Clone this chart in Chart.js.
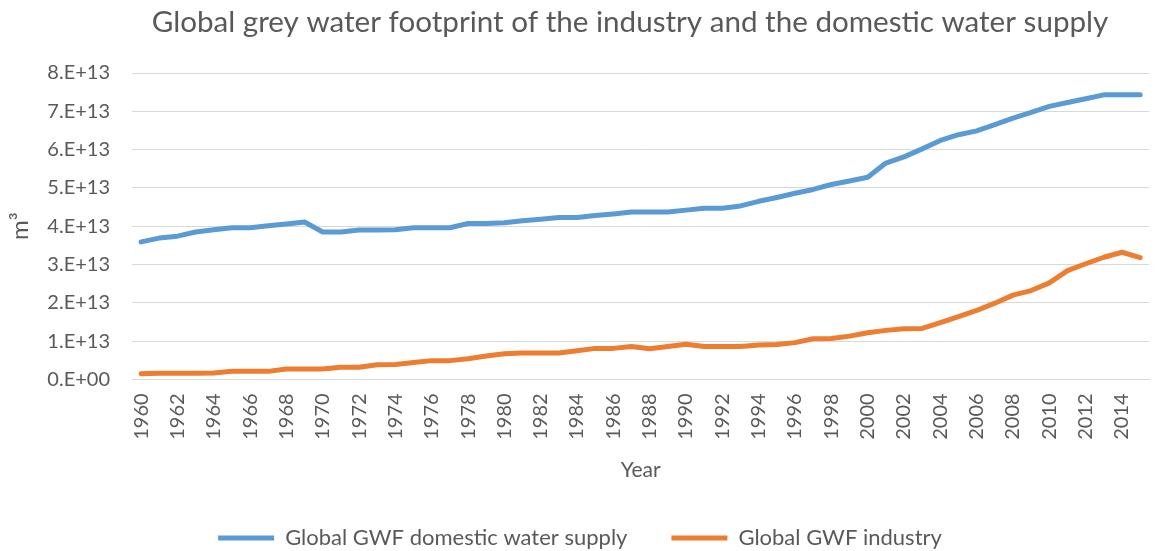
<!DOCTYPE html>
<html>
<head>
<meta charset="utf-8">
<script src="https://cdn.jsdelivr.net/npm/chart.js@4"></script>
<style>
  html, body { margin: 0; padding: 0; background: #fff; }
  #wrap { width: 1160px; height: 551px; }
</style>
</head>
<body>
<div id="wrap"><canvas id="gwfChart"></canvas></div>
<script>
(() => {
  'use strict'

  // Data, in 1E+13 m3
  const years = [];
  for (let y = 1960; y <= 2015; y++) years.push(String(y));

  const domestic = [
    3.59, 3.69, 3.74, 3.85, 3.91, 3.96, 3.96, 4.01, 4.06, 4.11,
    3.85, 3.85, 3.90, 3.90, 3.91, 3.96, 3.96, 3.96, 4.07, 4.07,
    4.09, 4.14, 4.18, 4.23, 4.23, 4.28, 4.32, 4.37, 4.37, 4.37,
    4.42, 4.47, 4.47, 4.53, 4.65, 4.75, 4.86, 4.96, 5.09, 5.18,
    5.28, 5.65, 5.81, 6.02, 6.24, 6.39, 6.49, 6.65, 6.82, 6.97,
    7.13, 7.23, 7.33, 7.43, 7.43, 7.43
  ];

  const industry = [
    0.15, 0.16, 0.16, 0.16, 0.17, 0.21, 0.21, 0.21, 0.27, 0.27,
    0.27, 0.32, 0.32, 0.38, 0.39, 0.44, 0.49, 0.49, 0.54, 0.61,
    0.67, 0.69, 0.69, 0.69, 0.75, 0.81, 0.81, 0.86, 0.80, 0.86,
    0.92, 0.86, 0.86, 0.86, 0.90, 0.91, 0.96, 1.06, 1.07, 1.13,
    1.22, 1.28, 1.32, 1.33, 1.48, 1.64, 1.80, 1.99, 2.20, 2.32,
    2.52, 2.84, 3.02, 3.19, 3.32, 3.18
  ];

  const seriesNames = ['Global GWF domestic water supply', 'Global GWF industry'];
  const blue = '#5B9BD5';
  const orange = '#ED7D31';
  const textGrey = '#595959';
  const gridGrey = '#D9D9D9';
  const font = 'Lato, "Open Sans", sans-serif';

  // Excel style "8.E+13"
  const sciLabel = (v) => {
    if (v === 0) return '0.E+00';
    const e = Math.floor(Math.log10(Math.abs(v)) + 1e-9);
    const m = Math.round(v / Math.pow(10, e));
    return m + '.E+' + String(e).padStart(2, '0');
  };

  // title in the original sits a bit right of the page centre
  const shiftTitle = {
    id: 'shiftTitle',
    afterLayout: (chart) => {
      if (chart.titleBlock) chart.titleBlock.left = 100;
    }
  };

  const ctx = document.getElementById('gwfChart').getContext('2d');

  const lineDs = (label, values, color) => ({
    label: label,
    data: values.map(v => v * 1e13),
    borderColor: color,
    backgroundColor: color,
    borderWidth: 5,
    borderCapStyle: 'round',
    borderJoinStyle: 'round',
    pointRadius: 0,
    pointStyle: 'line',
    tension: 0
  });

  const chart = new Chart(ctx, {
    type: 'line',
    data: {
      labels: years,
      datasets: [
        lineDs(seriesNames[0], domestic, blue),
        lineDs(seriesNames[1], industry, orange)
      ]
    },
    plugins: [shiftTitle],
    options: {
      responsive: true,
      maintainAspectRatio: false,
      animation: false,
      layout: { padding: { left: 0, right: 0, top: 0, bottom: -8 } },
      plugins: {
        title: {
          display: true,
          text: 'Global grey water footprint of the industry and the domestic water supply',
          color: textGrey,
          font: { family: font, size: 29.6, weight: 'normal' },
          padding: { top: 5, bottom: 32.5 }
        },
        legend: {
          position: 'bottom',
          labels: {
            color: textGrey,
            font: { family: font, size: 22 },
            usePointStyle: true,
            pointStyleWidth: 56,
            padding: 44
          }
        },
        tooltip: { enabled: false }
      },
      scales: {
        x: {
          offset: true,
          grid: { display: false, drawTicks: false },
          border: { color: gridGrey, width: 1 },
          ticks: {
            color: textGrey,
            font: { family: font, size: 20 },
            autoSkip: false,
            maxRotation: 90,
            minRotation: 90,
            padding: 14,
            callback: function (val, idx) { return idx % 2 === 0 ? this.getLabelForValue(val) : null; }
          },
          title: {
            display: true,
            text: 'Year',
            color: textGrey,
            font: { family: font, size: 21 },
            padding: { top: 4, bottom: 0 }
          }
        },
        y: {
          min: 0,
          max: 8e13,
          afterFit: (s) => { s.width = 132; },
          grid: { color: gridGrey, lineWidth: 1, drawTicks: false },
          border: { display: false },
          ticks: {
            stepSize: 1e13,
            color: textGrey,
            font: { family: font, size: 20 },
            padding: 22,
            callback: (v) => sciLabel(v)
          },
          title: {
            display: true,
            text: 'm³',
            color: textGrey,
            font: { family: font, size: 24 },
            padding: { top: 6, bottom: 0 }
          }
        }
      }
    }
  });
})()
</script>
</body>
</html>
